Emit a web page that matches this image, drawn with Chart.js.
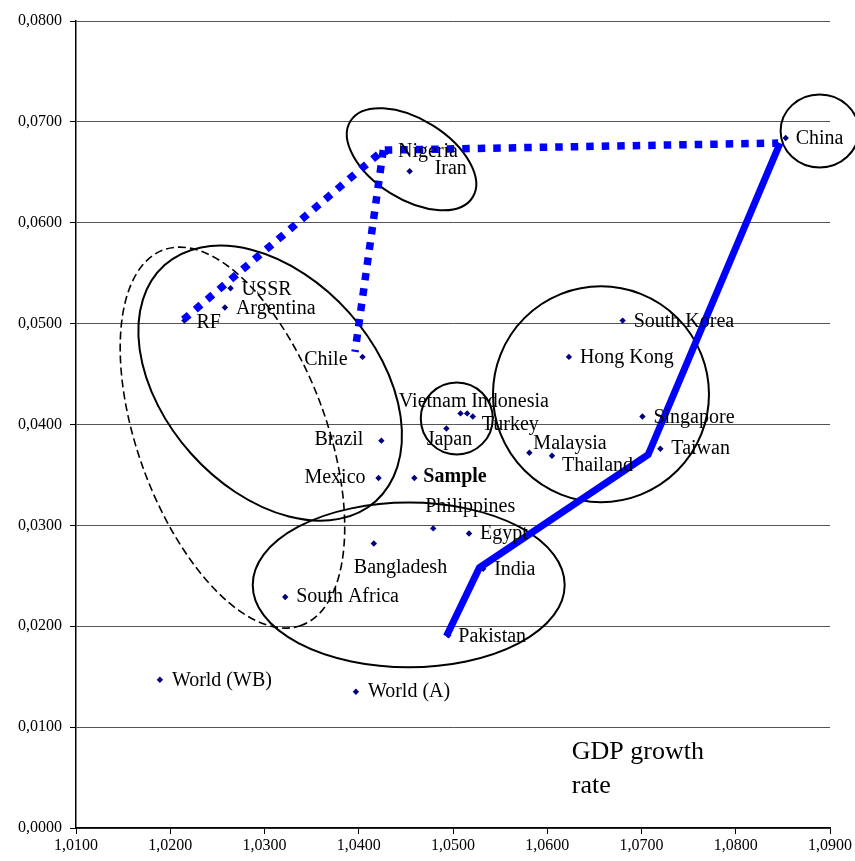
<!DOCTYPE html>
<html>
<head>
<meta charset="utf-8">
<script src="https://cdn.jsdelivr.net/npm/chart.js@4/dist/chart.umd.min.js"></script>
<style>
  html, body { margin: 0; padding: 0; background: #fff; }
</style>
</head>
<body>
<canvas id="chart" width="855" height="861"></canvas>
<script>
// Countries and their coordinates (x: growth factor, y: GDP growth rate)
const countries = ['China', 'Nigeria', 'Iran', 'USSR', 'Argentina', 'RF', 'Chile', 'Brazil', 'Mexico', 'Sample',
  'Japan', 'Vietnam', 'Indonesia', 'Turkey', 'Malaysia', 'Thailand', 'South Korea', 'Hong Kong', 'Singapore', 'Taiwan',
  'Philippines', 'Egypt', 'Bangladesh', 'India', 'South Africa', 'Pakistan', 'World (A)', 'World (WB)'];
const xValues = [1.0853, 1.0430, 1.0454, 1.0264, 1.0258, 1.0215, 1.0404, 1.0424, 1.0421, 1.0459,
  1.0493, 1.0508, 1.0515, 1.0521, 1.0581, 1.0605, 1.0680, 1.0623, 1.0701, 1.0720,
  1.0479, 1.0517, 1.0416, 1.0532, 1.0322, 1.0495, 1.0397, 1.0189];
const yValues = [0.0684, 0.0670, 0.0651, 0.0535, 0.0516, 0.0503, 0.0467, 0.0384, 0.0347, 0.0347,
  0.0396, 0.0411, 0.0411, 0.0408, 0.0372, 0.0369, 0.0503, 0.0467, 0.0408, 0.0376,
  0.0297, 0.0292, 0.0282, 0.0257, 0.0229, 0.0191, 0.0135, 0.0147];

// Hand-drawn blue paths
const dottedX1 = [1.0214, 1.0426, 1.0845];
const dottedY1 = [0.0504, 0.0672, 0.0679];
const dottedX2 = [1.0426, 1.0396];
const dottedY2 = [0.0672, 0.0472];
const solidX = [1.0493, 1.0528, 1.0707, 1.0847];
const solidY = [0.0190, 0.0258, 0.0370, 0.0679];

// Axis ticks
const xTicks = [1.01, 1.02, 1.03, 1.04, 1.05, 1.06, 1.07, 1.08, 1.09];
const yTicks = [0, 0.01, 0.02, 0.03, 0.04, 0.05, 0.06, 0.07, 0.08];

// Group outlines (centre and radii in axis units, angle in degrees)
const groups = [
  { cx: 1.0889, cy: 0.0691, rx: 0.00414, ry: 0.00362, angle: 0 },
  { cx: 1.0456, cy: 0.0663, rx: 0.00764, ry: 0.00396, angle: 32 },
  { cx: 1.0306, cy: 0.0441, rx: 0.01680, ry: 0.01050, angle: 48.2 },
  { cx: 1.0266, cy: 0.0387, rx: 0.02122, ry: 0.00935, angle: 69.8, dashed: true },
  { cx: 1.0504, cy: 0.0406, rx: 0.00382, ry: 0.00357, angle: 0 },
  { cx: 1.0657, cy: 0.0430, rx: 0.01146, ry: 0.01070, angle: 0 },
  { cx: 1.0453, cy: 0.0241, rx: 0.01655, ry: 0.00816, angle: 0 }
];

// label offsets in px: [dx, dy, align]
const labelPlacement = {
  'China': [10, 1, 'left'], 'Nigeria': [11, 0, 'left'], 'Iran': [25, -3, 'left'],
  'USSR': [11, 1, 'left'], 'Argentina': [11, 1, 'left'], 'RF': [12, 2, 'left'],
  'Chile': [-15, 3, 'right'], 'Brazil': [-18, -1, 'right'], 'Mexico': [-13, 0, 'right'],
  'Sample': [9, -1, 'left'], 'Vietnam': [6, -12, 'right'], 'Indonesia': [4, -12, 'left'],
  'Turkey': [9, 8, 'left'], 'Japan': [3, 11, 'center'], 'Malaysia': [4, -9, 'left'],
  'Thailand': [10, 10, 'left'], 'South Korea': [11, 1, 'left'], 'Hong Kong': [11, 1, 'left'],
  'Singapore': [11, 1, 'left'], 'Taiwan': [11, 0, 'left'], 'Philippines': [-8, -22, 'left'],
  'Egypt': [11, 0, 'left'], 'Bangladesh': [-20, 24, 'left'], 'India': [11, 1, 'left'],
  'South Africa': [11, 0, 'left'], 'Pakistan': [10, 1, 'left'], 'World (A)': [12, 0, 'left'],
  'World (WB)': [12, 1, 'left']
};

const noteLines = ['GDP growth', 'rate'];
const noteX = 1.0626;
const noteY = [0.0075, 0.0041];

const SERIF = '"Liberation Serif", "Times New Roman", serif';
const zip = (xs, ys) => xs.map((v, i) => ({ x: v, y: ys[i] }));
const fmt = v => v.toFixed(4).replace('.', ',');

const groupPlugin = {
  id: 'groups',
  beforeDatasetsDraw(chart) {
    const { ctx, scales: { x, y } } = chart;
    ctx.save();
    ctx.strokeStyle = '#000';
    groups.forEach(g => {
      const cx = x.getPixelForValue(g.cx), cy = y.getPixelForValue(g.cy);
      const rx = x.getPixelForValue(g.cx + g.rx) - cx;
      const ry = cy - y.getPixelForValue(g.cy + g.ry);
      ctx.setLineDash(g.dashed ? [8, 4] : []);
      ctx.lineWidth = g.dashed ? 1.6 : 2;
      ctx.beginPath();
      ctx.ellipse(cx, cy, rx, ry, g.angle * Math.PI / 180, 0, Math.PI * 2);
      ctx.stroke();
    });
    ctx.restore();
  }
};

const labelPlugin = {
  id: 'labels',
  afterDatasetsDraw(chart) {
    const { ctx, scales: { x, y } } = chart;
    const meta = chart.getDatasetMeta(3);
    ctx.save();
    ctx.fillStyle = '#000';
    ctx.textBaseline = 'middle';
    meta.data.forEach((pt, i) => {
      const name = countries[i];
      const [dx, dy, align] = labelPlacement[name];
      ctx.font = (name === 'Sample' ? 'bold ' : '') + '20px ' + SERIF;
      ctx.textAlign = align;
      ctx.fillText(name, pt.x + dx, pt.y + dy);
    });
    ctx.font = '26px ' + SERIF;
    ctx.textAlign = 'left';
    noteLines.forEach((line, i) => ctx.fillText(line, x.getPixelForValue(noteX), y.getPixelForValue(noteY[i])));
    ctx.restore();
  }
};

new Chart(document.getElementById('chart'), {
  type: 'scatter',
  data: {
    datasets: [
      { data: zip(dottedX1, dottedY1), showLine: true, borderColor: '#0000ff', borderWidth: 7.5, borderDash: [7.5, 8],
        borderCapStyle: 'butt', pointRadius: 0, order: 1 },
      { data: zip(dottedX2, dottedY2), showLine: true, borderColor: '#0000ff', borderWidth: 7.5, borderDash: [7.5, 8],
        borderCapStyle: 'butt', pointRadius: 0, order: 1 },
      { data: zip(solidX, solidY), showLine: true, borderColor: '#0000ff', borderWidth: 7,
        borderJoinStyle: 'miter', pointRadius: 0, order: 1 },
      { data: zip(xValues, yValues), pointStyle: 'rectRot', pointRadius: 3.2, backgroundColor: '#000080',
        borderColor: '#000080', borderWidth: 0, order: 2 }
    ]
  },
  options: {
    responsive: false,
    animation: false,
    layout: { padding: { top: 21, right: 25, left: 0, bottom: 0 } },
    plugins: { legend: { display: false }, tooltip: { enabled: false } },
    scales: {
      x: {
        type: 'linear', min: 1.01, max: 1.09,
        afterBuildTicks: s => { s.ticks = xTicks.map(v => ({ value: v })); },
        afterFit: s => { s.height = 33; s.paddingRight = 0; s.paddingLeft = 0; },
        ticks: { callback: fmt, font: { family: SERIF, size: 16 }, color: '#000', padding: 2, maxRotation: 0, autoSkip: false },
        grid: { drawOnChartArea: false, drawTicks: true, tickLength: 6, tickColor: '#000', tickWidth: 1 },
        border: { color: '#000', width: 1.5 }
      },
      y: {
        type: 'linear', min: 0, max: 0.08,
        afterBuildTicks: s => { s.ticks = yTicks.map(v => ({ value: v })); },
        afterFit: s => { s.width = 76; s.paddingTop = 0; s.paddingBottom = 0; },
        ticks: { callback: fmt, font: { family: SERIF, size: 16 }, color: '#000', padding: 8 },
        grid: { color: '#555', lineWidth: 1, tickLength: 6, tickColor: '#000', tickWidth: 1 },
        border: { color: '#000', width: 1.5 }
      }
    }
  },
  plugins: [groupPlugin, labelPlugin]
});
</script>
</body>
</html>
